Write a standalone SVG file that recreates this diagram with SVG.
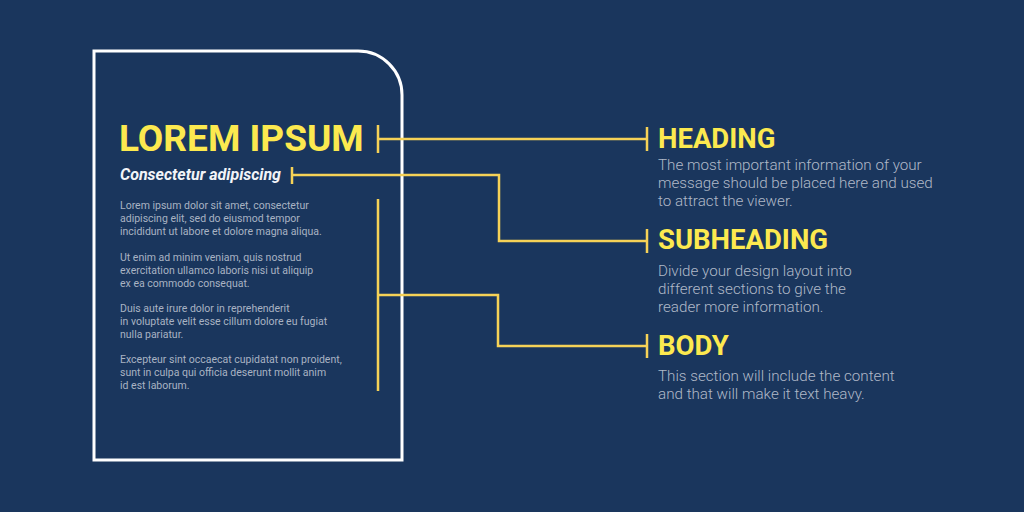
<svg xmlns="http://www.w3.org/2000/svg" width="1024" height="512" viewBox="0 0 1024 512">
<style>
.bg{fill:#1a365d}
.frame{fill:none;stroke:#ffffff;stroke-width:3}
.ln{fill:none;stroke:#f6d257;stroke-width:2.5;stroke-linecap:butt;stroke-linejoin:miter}
.h1{font-family:Roboto,"Liberation Sans",sans-serif;font-weight:700;fill:#fce94f}
.sub{font-family:Roboto,"Liberation Sans",sans-serif;font-weight:700;font-style:italic;fill:#f2f4f8;font-size:16px}
.body{font-family:Roboto,"Liberation Sans",sans-serif;font-weight:400;fill:#a9b3c3;font-size:10.5px}
.lbl{font-family:Roboto,"Liberation Sans",sans-serif;font-weight:700;fill:#fce94f;font-size:27.5px}
.desc{font-family:Roboto,"Liberation Sans",sans-serif;font-weight:300;fill:#b0b9c8;font-size:15.2px}
</style>
<rect class="bg" x="0" y="0" width="1024" height="512"/>
<g id="page">
<path class="frame" d="M94,51 H358 A44,44 0 0 1 402,95 V460 H94 Z"/>
<text class="h1" x="119" y="151" font-size="37">LOREM IPSUM</text>
<text class="sub" x="120" y="180">Consectetur adipiscing</text>
<text class="body">
<tspan x="120" y="209">Lorem ipsum dolor sit amet, consectetur</tspan>
<tspan x="120" y="222">adipiscing elit, sed do eiusmod tempor</tspan>
<tspan x="120" y="235">incididunt ut labore et dolore magna aliqua.</tspan>
<tspan x="120" y="261">Ut enim ad minim veniam, quis nostrud</tspan>
<tspan x="120" y="274">exercitation ullamco laboris nisi ut aliquip</tspan>
<tspan x="120" y="287">ex ea commodo consequat.</tspan>
<tspan x="120" y="312">Duis aute irure dolor in reprehenderit</tspan>
<tspan x="120" y="325">in voluptate velit esse cillum dolore eu fugiat</tspan>
<tspan x="120" y="338">nulla pariatur.</tspan>
<tspan x="120" y="363">Excepteur sint occaecat cupidatat non proident,</tspan>
<tspan x="120" y="376">sunt in culpa qui officia deserunt mollit anim</tspan>
<tspan x="120" y="389">id est laborum.</tspan>
</text>
</g>
<g id="connectors">
<path class="ln" d="M378,125 V153 M378,139 H647 M647,127 V151"/>
<path class="ln" d="M292,167 V184 M292,175 H499 V241 H647 M647,229 V253"/>
<path class="ln" d="M378,199 V391 M378,295 H498 V346 H647 M647,334 V358"/>
</g>
<g id="heading">
<text class="lbl" x="658" y="148">HEADING</text>
<text class="desc"><tspan x="658" y="170">The most important information of your</tspan><tspan x="658" y="188">message should be placed here and used</tspan><tspan x="658" y="206">to attract the viewer.</tspan></text>
</g>
<g id="subheading">
<text class="lbl" x="658" y="249">SUBHEADING</text>
<text class="desc"><tspan x="658" y="276">Divide your design layout into</tspan><tspan x="658" y="294">different sections to give the</tspan><tspan x="658" y="312">reader more information.</tspan></text>
</g>
<g id="body">
<text class="lbl" x="658" y="355">BODY</text>
<text class="desc"><tspan x="658" y="381">This section will include the content</tspan><tspan x="658" y="399">and that will make it text heavy.</tspan></text>
</g>
</svg>
